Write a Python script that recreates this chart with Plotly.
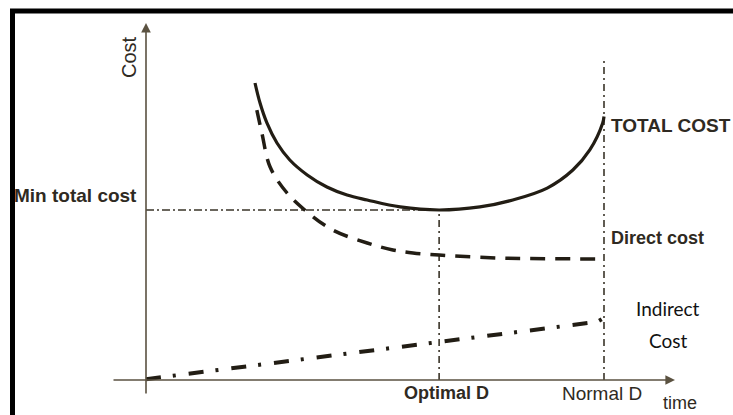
import plotly.graph_objects as go

# ---- data (time units, cost units) ----
time_total = [2.38, 2.49, 2.64, 2.86, 3.14, 3.52, 3.95, 4.39, 4.83, 5.55, 6.4, 7.29, 8.01, 8.76, 9.32, 9.69, 9.97, 10.0]
total_cost = [17.47, 16.29, 15.12, 13.94, 12.94, 12.06, 11.35, 10.88, 10.59, 10.18, 10.0, 10.18, 10.59, 11.29, 12.35, 13.53, 15.1, 15.5]

time_direct = [2.42, 2.53, 2.71, 3.08, 3.52, 4.08, 4.83, 5.39, 5.83, 6.4, 7.66, 10.0]
direct_cost = [15.88, 14.53, 12.53, 11.0, 9.88, 8.82, 8.06, 7.65, 7.47, 7.35, 7.18, 7.12]

time_indirect = [0.0, 9.85, 10.0]
indirect_cost = [0.05, 3.42, 3.65]

optimal_d = 6.4
normal_d = 10.0
min_total_cost = 10.0
cost_axis_top = 21.0
time_axis_end = 11.55
normal_line_top = 18.8

# ---- styling ----
PX_X = 45.8   # pixels per time unit
PX_Y = 17.0   # pixels per cost unit
X0, Y0 = 146, 380  # pixel of origin
W, H = 733, 415

curve_col = "#221d14"
axis_col = "#5b5241"
text_col = "#2f2a22"
FONT = "Liberation Sans"

def dx(p):
    return (p - X0) / PX_X

def dy(p):
    return (Y0 - p) / PX_Y

fig = go.Figure()

# reference lines
fig.add_trace(go.Scatter(x=[0, optimal_d], y=[min_total_cost, min_total_cost], mode="lines",
                         line=dict(color="#3a3428", width=1.4, dash="8px,3px,2px,3px")))
fig.add_trace(go.Scatter(x=[optimal_d, optimal_d], y=[0, min_total_cost], mode="lines",
                         line=dict(color="#3a3428", width=1.6, dash="7px,4px,2px,4px")))
fig.add_trace(go.Scatter(x=[normal_d, normal_d], y=[0, normal_line_top], mode="lines",
                         line=dict(color="#3a3428", width=1.6, dash="7px,4px,2px,4px")))

# curves
fig.add_trace(go.Scatter(x=time_total, y=total_cost, mode="lines", line_shape="spline",
                         line=dict(color=curve_col, width=3.2)))
fig.add_trace(go.Scatter(x=time_direct, y=direct_cost, mode="lines", line_shape="spline",
                         line=dict(color=curve_col, width=3.5, dash="15px,10px")))
fig.add_trace(go.Scatter(x=time_indirect, y=indirect_cost, mode="lines",
                         line=dict(color=curve_col, width=4, dash="15px,12px,3px,13px")))

annotations = []
# axes with arrows
annotations.append(dict(x=0, y=cost_axis_top, ax=0, ay=dy(395), xref="x", yref="y", axref="x", ayref="y",
                        text="", showarrow=True, arrowhead=2, arrowsize=1.2, arrowwidth=1.6, arrowcolor=axis_col))
annotations.append(dict(x=time_axis_end, y=0, ax=dx(112), ay=0, xref="x", yref="y", axref="x", ayref="y",
                        text="", showarrow=True, arrowhead=2, arrowsize=1.2, arrowwidth=1.6, arrowcolor=axis_col))

def label(text, x, y, size=19, bold=False, xanchor="center", family=FONT, angle=0, color=text_col):
    t = f"<b>{text}</b>" if bold else text
    annotations.append(dict(x=x, y=y, xref="x", yref="y", text=t, showarrow=False, xanchor=xanchor,
                            yanchor="middle", textangle=angle,
                            font=dict(family=family, size=size, color=color)))

label("Cost", dx(129), dy(57), size=20, angle=-90)
label("Min total cost", dx(139), min_total_cost + 0.88, size=19, bold=True, xanchor="right")
label("TOTAL COST", normal_d + dx(X0 + 5), dy(125), size=19, bold=True, xanchor="left")
label("Direct cost", normal_d + dx(X0 + 5), dy(238), size=18, bold=True, xanchor="left")
label("Indirect", dx(668), dy(308), size=19, family="Lato", color="#111111")
label("Cost", dx(668), dy(340), size=19, family="Lato", color="#111111")
label("Optimal D", optimal_d + dx(X0 + 7), dy(393), size=18, bold=True)
label("Normal D", normal_d + dx(X0 - 2), dy(393), size=19)
label("time", dx(680), dy(403), size=18)

shapes = [
    dict(type="line", xref="paper", yref="paper", x0=10 / W, x1=1.0, y0=1 - 11 / H, y1=1 - 11 / H,
         line=dict(color="black", width=5)),
    dict(type="line", xref="paper", yref="paper", x0=12.5 / W, x1=12.5 / W, y0=0, y1=1 - 9 / H,
         line=dict(color="black", width=5)),
]

fig.update_layout(
    width=W, height=H, margin=dict(l=0, r=0, t=0, b=0),
    paper_bgcolor="white", plot_bgcolor="white", showlegend=False,
    xaxis=dict(range=[dx(0), dx(W)], visible=False, fixedrange=True),
    yaxis=dict(range=[dy(H), dy(0)], visible=False, fixedrange=True),
    annotations=annotations, shapes=shapes,
)

fig.write_html("out.html", config={"displayModeBar": False},
               post_script="document.body.style.margin='0';document.body.style.overflow='hidden';")
